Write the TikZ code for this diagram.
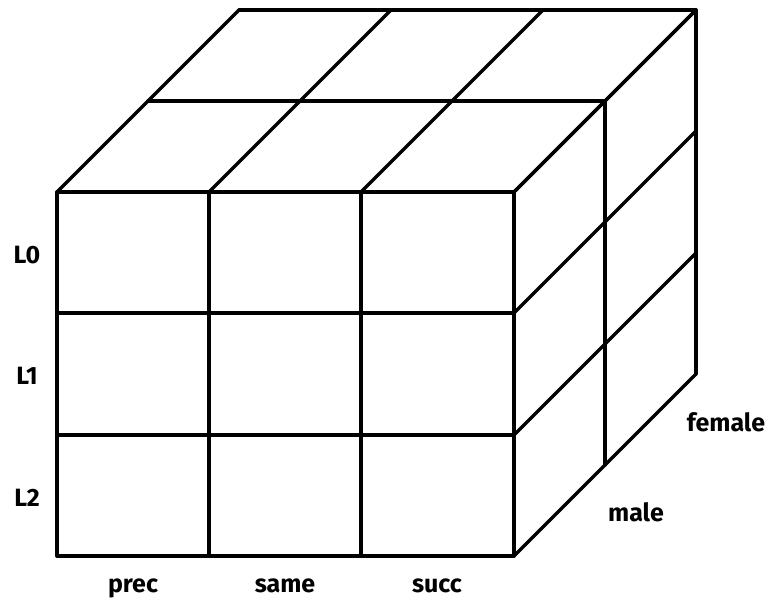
\documentclass[tikz,border=0pt]{standalone}
\usepackage{fontspec}
\setmainfont{Fira Sans}
\begin{document}
\begin{tikzpicture}[x=1pt,y=-1pt,
  edge/.style={line width=3.3pt,line cap=round,line join=round},
  lab/.style={font=\fontsize{25}{28}\selectfont\bfseries,inner sep=0pt}]
\useasboundingbox (0,0) rectangle (773,601);
\def\dx{91}
% front face grid
\foreach \x in {57,209,361,514} \draw[edge] (\x,192) -- (\x,556);
\foreach \y in {192,313,435,556} \draw[edge] (57,\y) -- (514,\y);
% top face
\foreach \x in {57,209,361,514} \draw[edge] (\x,192) -- ++(2*\dx,-2*\dx);
\draw[edge] (57+\dx,192-\dx) -- (514+\dx,192-\dx);
\draw[edge] (57+2*\dx,192-2*\dx) -- (514+2*\dx,192-2*\dx);
% right face
\foreach \y in {192,313,435,556} \draw[edge] (514,\y) -- ++(2*\dx,-2*\dx);
\draw[edge] (514+\dx,192-\dx) -- (514+\dx,556-\dx);
\draw[edge] (514+2*\dx,192-2*\dx) -- (514+2*\dx,556-2*\dx);
% labels
\node[lab] (l0) at (27,255) {L0};
\node[lab] (l1) at (27,376) {L1};
\node[lab] (l2) at (27,498) {L2};
\node[lab,anchor=base] (prec) at (133,592) {prec};
\node[lab,anchor=base] (same) at (285,592) {same};
\node[lab,anchor=base] (succ) at (437,592) {succ};
\node[lab,anchor=base] (male) at (636,521) {male};
\node[lab,anchor=base] (female) at (726,431) {female};
\end{tikzpicture}
\end{document}
